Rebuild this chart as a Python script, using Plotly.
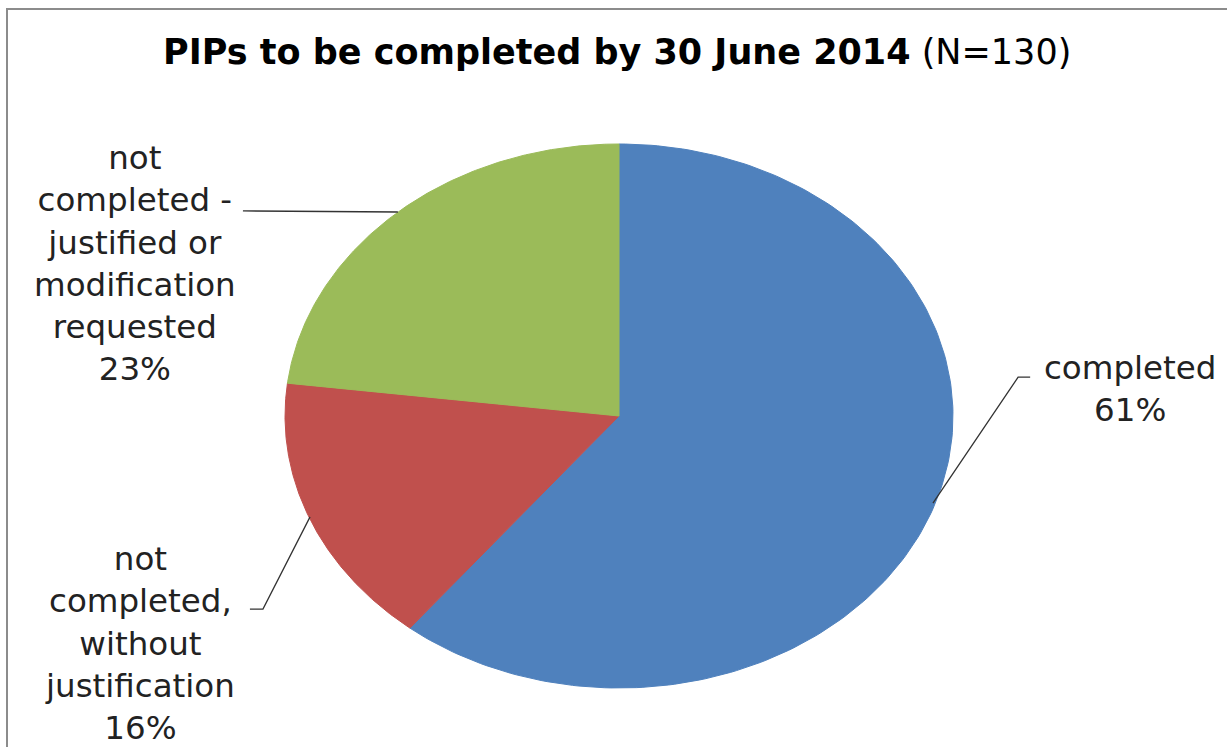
import numpy as np
import plotly.graph_objects as go

# Data
categories = ["completed", "not completed, without justification",
              "not completed - justified or modification requested"]
counts = [79, 21, 30]          # N = 130
colors = ["#4F81BD", "#C0504D", "#9BBB59"]
label_texts = ["completed<br>61%",
               "not<br>completed,<br>without<br>justification<br>16%",
               "not<br>completed -<br>justified or<br>modification<br>requested<br>23%"]
title_main = "PIPs to be completed by 30 June 2014"
title_sub = "(N=130)"

W, H = 1227, 747
cx_px, cy_px, rx_px, ry_px = 619, 416, 334, 272

fig = go.Figure()

total = sum(counts)
start = 90.0  # degrees, 12 o'clock, clockwise
for cat, v, col in zip(categories, counts, colors):
    sweep = 360.0 * v / total
    th = np.radians(np.linspace(start, start - sweep, 200))
    xs = np.concatenate([[0], np.cos(th), [0]])
    ys = np.concatenate([[0], np.sin(th), [0]])
    fig.add_trace(go.Scatter(x=xs, y=ys, fill="toself", fillcolor=col,
                             mode="lines", line=dict(color=col, width=1),
                             name=cat, hoverinfo="skip", showlegend=False))
    start -= sweep

# label positions (data coords, pie radius = 1)
label_pos = [(1.53, 0.10), (-1.434, -0.835), (-1.449, 0.561)]
for txt, (lx, ly) in zip(label_texts, label_pos):
    fig.add_annotation(x=lx, y=ly, text=txt, showarrow=False,
                       font=dict(family="DejaVu Sans", size=32.5, color="#222222"),
                       align="center", xanchor="center", yanchor="middle")

leaders = [
    [(0.940, -0.320), (1.195, 0.143), (1.231, 0.143)],
    [(-1.105, -0.710), (-1.066, -0.710), (-0.925, -0.371)],
    [(-1.126, 0.754), (-0.662, 0.750)],
]
for pts in leaders:
    fig.add_trace(go.Scatter(x=[p[0] for p in pts], y=[p[1] for p in pts],
                             mode="lines", line=dict(color="#333333", width=1.3),
                             hoverinfo="skip", showlegend=False))

fig.add_annotation(xref="paper", yref="paper", x=617 / W, y=1 - 52 / H,
                   text=f"<b>{title_main}</b> {title_sub}", showarrow=False,
                   font=dict(family="DejaVu Sans", size=35, color="#000000"),
                   xanchor="center", yanchor="middle")

# chart border (top and left visible)
fig.add_shape(type="rect", xref="paper", yref="paper",
              x0=7 / W, y0=-0.05, x1=1.05, y1=1 - 9 / H,
              line=dict(color="#8c8c8c", width=2))

fig.update_xaxes(range=[-cx_px / rx_px, (W - cx_px) / rx_px], visible=False, fixedrange=True)
fig.update_yaxes(range=[-(H - cy_px) / ry_px, cy_px / ry_px], visible=False, fixedrange=True)
fig.update_layout(width=W, height=H, margin=dict(l=0, r=0, t=0, b=0),
                  paper_bgcolor="white", plot_bgcolor="white", showlegend=False)

fig.write_html("out.html")
